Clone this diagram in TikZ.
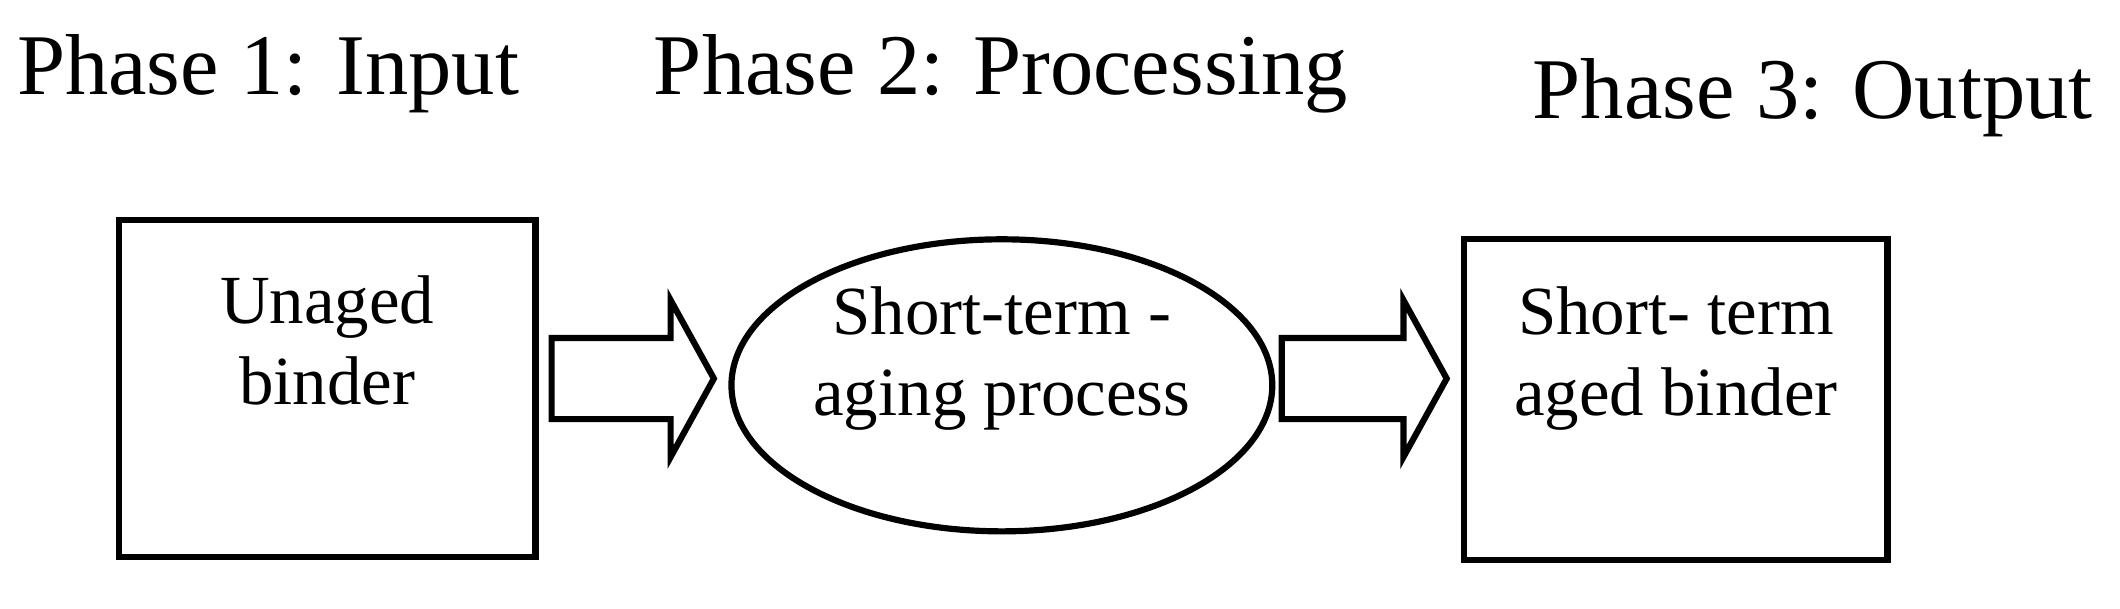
\documentclass[tikz,border=0pt]{standalone}
\usepackage{fontspec}
\setmainfont{Liberation Serif}
\usetikzlibrary{shapes.geometric}
\begin{document}
\begin{tikzpicture}[x=1cm,y=1cm,
  title/.style={font=\fontsize{18.2pt}{21pt}\selectfont, anchor=base west, inner sep=0},
  boxtext/.style={font=\fontsize{14.5pt}{17pt}\selectfont, align=center},
  blk/.style={draw, line width=1.3pt},
  fatarrow/.style={draw, line width=1.3pt, line join=miter}]
\useasboundingbox (0,0) rectangle (15.68,-4.504);
\node[title] (t1) at (0.12,-0.70) {Phase 1: Input};
\node[title] (t2) at (4.83,-0.70) {Phase 2: Processing};
\node[title] (t3) at (11.33,-0.88) {Phase 3: Output};
\node[blk, minimum width=3.08cm, minimum height=2.49cm] (b1) at (2.42,-2.875) {};
\node[boxtext] (l1) at (2.42,-2.52) {Unaged\\binder};
\node[blk, ellipse, minimum width=4.0cm, minimum height=2.16cm, inner sep=0] (e) at (7.41,-2.85) {};
\node[boxtext] (l2) at (7.41,-2.65) {Short-term -\\aging process};
\node[blk, minimum width=3.13cm, minimum height=2.37cm] (b2) at (12.395,-2.955) {};
\node[boxtext] (l3) at (12.395,-2.65) {Short- term\\aged binder};
\coordinate (a1) at (4.08,-2.80);
\coordinate (a2) at (9.48,-2.80);
\draw[fatarrow] (a1) ++(0,0.3) -- ++(0.88,0) -- ++(0,0.28) -- ++(0.32,-0.58) -- ++(-0.32,-0.58) -- ++(0,0.28) -- ++(-0.88,0) -- cycle;
\draw[fatarrow] (a2) ++(0,0.3) -- ++(0.9,0) -- ++(0,0.28) -- ++(0.32,-0.58) -- ++(-0.32,-0.58) -- ++(0,0.28) -- ++(-0.9,0) -- cycle;
\end{tikzpicture}
\end{document}
